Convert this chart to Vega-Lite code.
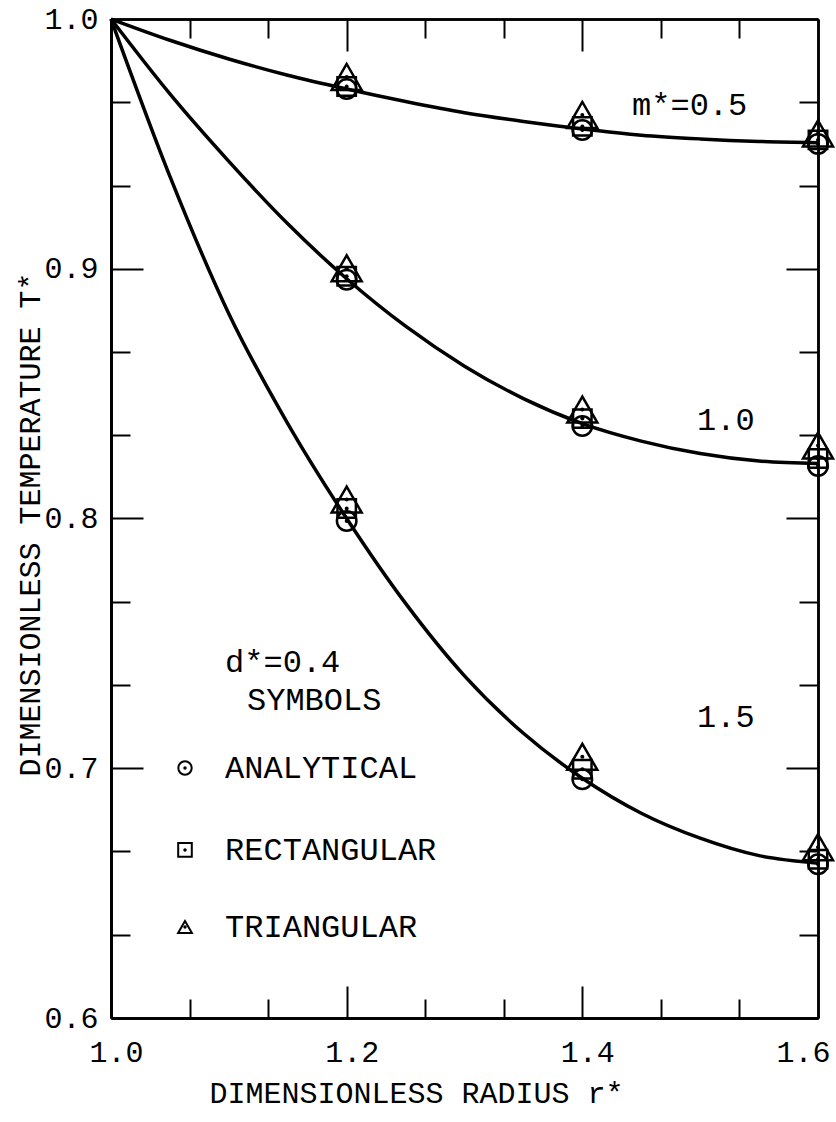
{
  "$schema": "https://vega.github.io/schema/vega-lite/v6.json",
  "width": 707,
  "height": 999,
  "autosize": {"type": "none"},
  "padding": {"left": 111, "top": 19, "right": 18, "bottom": 104},
  "background": "white",
  "config": {
    "view": {"stroke": null},
    "axis": {"labelFont": "Liberation Mono", "titleFont": "Liberation Mono", "labelColor": "black", "titleColor": "black", "domainColor": "black", "tickColor": "black", "grid": false, "domainWidth": 2.5, "tickWidth": 2, "labelFontSize": 30, "titleFontSize": 30, "titleFontWeight": "normal"}
  },
  "datasets": {
    "curves": [
      {"m": "0.5", "r": 1.0, "T": 1.0}, {"m": "0.5", "r": 1.05, "T": 0.9915}, {"m": "0.5", "r": 1.1, "T": 0.984}, {"m": "0.5", "r": 1.15, "T": 0.9775}, {"m": "0.5", "r": 1.2, "T": 0.972}, {"m": "0.5", "r": 1.25, "T": 0.967}, {"m": "0.5", "r": 1.3, "T": 0.9625}, {"m": "0.5", "r": 1.35, "T": 0.959}, {"m": "0.5", "r": 1.4, "T": 0.956}, {"m": "0.5", "r": 1.45, "T": 0.9535}, {"m": "0.5", "r": 1.5, "T": 0.952}, {"m": "0.5", "r": 1.55, "T": 0.951}, {"m": "0.5", "r": 1.6, "T": 0.9505},
      {"m": "1.0", "r": 1.0, "T": 1.0}, {"m": "1.0", "r": 1.05, "T": 0.97}, {"m": "1.0", "r": 1.1, "T": 0.943}, {"m": "1.0", "r": 1.15, "T": 0.918}, {"m": "1.0", "r": 1.2, "T": 0.896}, {"m": "1.0", "r": 1.25, "T": 0.877}, {"m": "1.0", "r": 1.3, "T": 0.861}, {"m": "1.0", "r": 1.35, "T": 0.848}, {"m": "1.0", "r": 1.4, "T": 0.838}, {"m": "1.0", "r": 1.45, "T": 0.831}, {"m": "1.0", "r": 1.5, "T": 0.826}, {"m": "1.0", "r": 1.55, "T": 0.823}, {"m": "1.0", "r": 1.6, "T": 0.822},
      {"m": "1.5", "r": 1.0, "T": 1.0}, {"m": "1.5", "r": 1.05, "T": 0.937}, {"m": "1.5", "r": 1.1, "T": 0.882}, {"m": "1.5", "r": 1.15, "T": 0.838}, {"m": "1.5", "r": 1.2, "T": 0.8}, {"m": "1.5", "r": 1.25, "T": 0.766}, {"m": "1.5", "r": 1.3, "T": 0.737}, {"m": "1.5", "r": 1.35, "T": 0.714}, {"m": "1.5", "r": 1.4, "T": 0.696}, {"m": "1.5", "r": 1.45, "T": 0.682}, {"m": "1.5", "r": 1.5, "T": 0.672}, {"m": "1.5", "r": 1.55, "T": 0.665}, {"m": "1.5", "r": 1.6, "T": 0.662}
    ],
    "markers": [
      {"method": "ANALYTICAL", "m": "0.5", "r": 1.2, "T": 0.972}, {"method": "ANALYTICAL", "m": "1.0", "r": 1.2, "T": 0.8956}, {"method": "ANALYTICAL", "m": "1.5", "r": 1.2, "T": 0.799},
      {"method": "ANALYTICAL", "m": "0.5", "r": 1.4, "T": 0.9556}, {"method": "ANALYTICAL", "m": "1.0", "r": 1.4, "T": 0.837}, {"method": "ANALYTICAL", "m": "1.5", "r": 1.4, "T": 0.6956},
      {"method": "ANALYTICAL", "m": "0.5", "r": 1.6, "T": 0.95}, {"method": "ANALYTICAL", "m": "1.0", "r": 1.6, "T": 0.821}, {"method": "ANALYTICAL", "m": "1.5", "r": 1.6, "T": 0.6616},
      {"method": "RECTANGULAR", "m": "0.5", "r": 1.2, "T": 0.973}, {"method": "RECTANGULAR", "m": "1.0", "r": 1.2, "T": 0.897}, {"method": "RECTANGULAR", "m": "1.5", "r": 1.2, "T": 0.804},
      {"method": "RECTANGULAR", "m": "0.5", "r": 1.4, "T": 0.957}, {"method": "RECTANGULAR", "m": "1.0", "r": 1.4, "T": 0.84}, {"method": "RECTANGULAR", "m": "1.5", "r": 1.4, "T": 0.6996},
      {"method": "RECTANGULAR", "m": "0.5", "r": 1.6, "T": 0.9516}, {"method": "RECTANGULAR", "m": "1.0", "r": 1.6, "T": 0.824}, {"method": "RECTANGULAR", "m": "1.5", "r": 1.6, "T": 0.6636},
      {"method": "TRIANGULAR", "m": "0.5", "r": 1.2, "T": 0.9768}, {"method": "TRIANGULAR", "m": "1.0", "r": 1.2, "T": 0.9002}, {"method": "TRIANGULAR", "m": "1.5", "r": 1.2, "T": 0.8076},
      {"method": "TRIANGULAR", "m": "0.5", "r": 1.4, "T": 0.9616}, {"method": "TRIANGULAR", "m": "1.0", "r": 1.4, "T": 0.8436}, {"method": "TRIANGULAR", "m": "1.5", "r": 1.4, "T": 0.7046},
      {"method": "TRIANGULAR", "m": "0.5", "r": 1.6, "T": 0.9542}, {"method": "TRIANGULAR", "m": "1.0", "r": 1.6, "T": 0.8292}, {"method": "TRIANGULAR", "m": "1.5", "r": 1.6, "T": 0.6684}
    ],
    "notes": [
      {"r": 1.4422, "T": 0.9656, "label": "m*=0.5"},
      {"r": 1.4973, "T": 0.8394, "label": "1.0"},
      {"r": 1.4973, "T": 0.7205, "label": "1.5"},
      {"r": 1.0968, "T": 0.7425, "label": "d*=0.4"},
      {"r": 1.1154, "T": 0.7273, "label": "SYMBOLS"},
      {"r": 1.0968, "T": 0.7001, "label": "ANALYTICAL"},
      {"r": 1.0968, "T": 0.6673, "label": "RECTANGULAR"},
      {"r": 1.0968, "T": 0.6364, "label": "TRIANGULAR"}
    ],
    "legend": [
      {"r": 1.0628, "T": 0.7001, "method": "ANALYTICAL"},
      {"r": 1.0628, "T": 0.6673, "method": "RECTANGULAR"},
      {"r": 1.0628, "T": 0.6364, "method": "TRIANGULAR"}
    ]
  },
  "layer": [
    {
      "data": {"name": "curves"},
      "mark": {"type": "line", "interpolate": "monotone", "color": "black", "strokeWidth": 3.5},
      "encoding": {
        "x": {"field": "r", "type": "quantitative", "scale": {"domain": [1.0, 1.6], "nice": false, "zero": false},
          "axis": {"orient": "bottom", "values": [1.0, 1.2, 1.4, 1.6], "format": ".1f", "ticks": false, "labelPadding": 19, "labelFlush": false,
            "labelOffset": {"condition": {"test": "datum.value >= 1.59", "value": -15}, "value": 5},
            "title": "DIMENSIONLESS RADIUS r*", "titleX": 305, "titleY": 75, "titleBaseline": "middle", "titleAlign": "center"}},
        "y": {"field": "T", "type": "quantitative", "scale": {"domain": [0.6, 1.0], "nice": false, "zero": false},
          "axis": {"orient": "left", "values": [0.6, 0.7, 0.8, 0.9, 1.0], "format": ".1f", "ticks": false, "labelPadding": 13, "labelFlush": false,
            "title": "DIMENSIONLESS TEMPERATURE T*", "titleX": -81, "titleY": 505, "titleBaseline": "middle", "titleAlign": "center", "titleAngle": -90}},
        "detail": {"field": "m"}
      }
    },
    {
      "data": {"name": "markers"},
      "transform": [{"filter": "datum.method === 'ANALYTICAL'"}],
      "mark": {"type": "point", "shape": "circle", "filled": false, "stroke": "black", "strokeWidth": 2.5, "size": 380, "opacity": 1},
      "encoding": {
        "x": {"field": "r", "type": "quantitative", "scale": {"domain": [1.0, 1.6], "nice": false, "zero": false},
          "axis": {"orient": "bottom", "values": [1.2, 1.4], "labels": false, "tickSize": -32, "title": null}},
        "y": {"field": "T", "type": "quantitative", "scale": {"domain": [0.6, 1.0], "nice": false, "zero": false},
          "axis": {"orient": "left", "values": [0.7, 0.8, 0.9], "labels": false, "tickSize": -32, "title": null}}
      }
    },
    {
      "data": {"name": "markers"},
      "transform": [{"filter": "datum.method === 'RECTANGULAR'"}],
      "mark": {"type": "point", "shape": "square", "filled": false, "stroke": "black", "strokeWidth": 2.5, "size": 340, "opacity": 1},
      "encoding": {
        "x": {"field": "r", "type": "quantitative", "scale": {"domain": [1.0, 1.6], "nice": false, "zero": false},
          "axis": {"orient": "bottom", "values": [1.0667, 1.1333, 1.2667, 1.3333, 1.4667, 1.5333], "labels": false, "tickSize": -19, "title": null}},
        "y": {"field": "T", "type": "quantitative", "scale": {"domain": [0.6, 1.0], "nice": false, "zero": false},
          "axis": {"orient": "left", "values": [0.6333, 0.6667, 0.7333, 0.7667, 0.8333, 0.8667, 0.9333, 0.9667], "labels": false, "tickSize": -19, "title": null}}
      }
    },
    {
      "data": {"name": "markers"},
      "transform": [{"filter": "datum.method === 'TRIANGULAR'"}],
      "mark": {"type": "point", "shape": "triangle-up", "filled": false, "stroke": "black", "strokeWidth": 2.5, "size": 900, "opacity": 1},
      "encoding": {
        "x": {"field": "r", "type": "quantitative", "scale": {"domain": [1.0, 1.6], "nice": false, "zero": false},
          "axis": {"orient": "top", "values": [1.2, 1.4], "labels": false, "tickSize": -32, "title": null}},
        "y": {"field": "T", "type": "quantitative", "scale": {"domain": [0.6, 1.0], "nice": false, "zero": false},
          "axis": {"orient": "right", "values": [0.7, 0.8, 0.9], "labels": false, "tickSize": -32, "title": null}}
      }
    },
    {
      "data": {"name": "markers"},
      "mark": {"type": "point", "shape": "circle", "filled": true, "color": "black", "size": 16, "opacity": 1},
      "encoding": {
        "x": {"field": "r", "type": "quantitative", "scale": {"domain": [1.0, 1.6], "nice": false, "zero": false},
          "axis": {"orient": "top", "values": [1.0667, 1.1333, 1.2667, 1.3333, 1.4667, 1.5333], "labels": false, "tickSize": -19, "title": null}},
        "y": {"field": "T", "type": "quantitative", "scale": {"domain": [0.6, 1.0], "nice": false, "zero": false},
          "axis": {"orient": "right", "values": [0.6333, 0.6667, 0.7333, 0.7667, 0.8333, 0.8667, 0.9333, 0.9667], "labels": false, "tickSize": -19, "title": null}}
      }
    },
    {
      "data": {"name": "notes"},
      "mark": {"type": "text", "align": "left", "baseline": "middle", "font": "Liberation Mono", "fontSize": 32, "color": "black"},
      "encoding": {
        "x": {"field": "r", "type": "quantitative", "axis": null},
        "y": {"field": "T", "type": "quantitative", "axis": null},
        "text": {"field": "label"}
      }
    },
    {
      "data": {"name": "legend"},
      "mark": {"type": "point", "filled": false, "stroke": "black", "strokeWidth": 2, "opacity": 1},
      "encoding": {
        "x": {"field": "r", "type": "quantitative", "axis": null},
        "y": {"field": "T", "type": "quantitative", "axis": null},
        "shape": {"field": "method", "type": "nominal", "scale": {"domain": ["ANALYTICAL", "RECTANGULAR", "TRIANGULAR"], "range": ["circle", "square", "triangle-up"]}, "legend": null},
        "size": {"field": "method", "type": "nominal", "scale": {"domain": ["ANALYTICAL", "RECTANGULAR", "TRIANGULAR"], "range": [180, 190, 420]}, "legend": null}
      }
    },
    {
      "data": {"name": "legend"},
      "mark": {"type": "point", "shape": "circle", "filled": true, "color": "black", "size": 12, "opacity": 1},
      "encoding": {
        "x": {"field": "r", "type": "quantitative", "axis": null},
        "y": {"field": "T", "type": "quantitative", "axis": null}
      }
    }
  ],
  "resolve": {"axis": {"x": "independent", "y": "independent"}}
}
